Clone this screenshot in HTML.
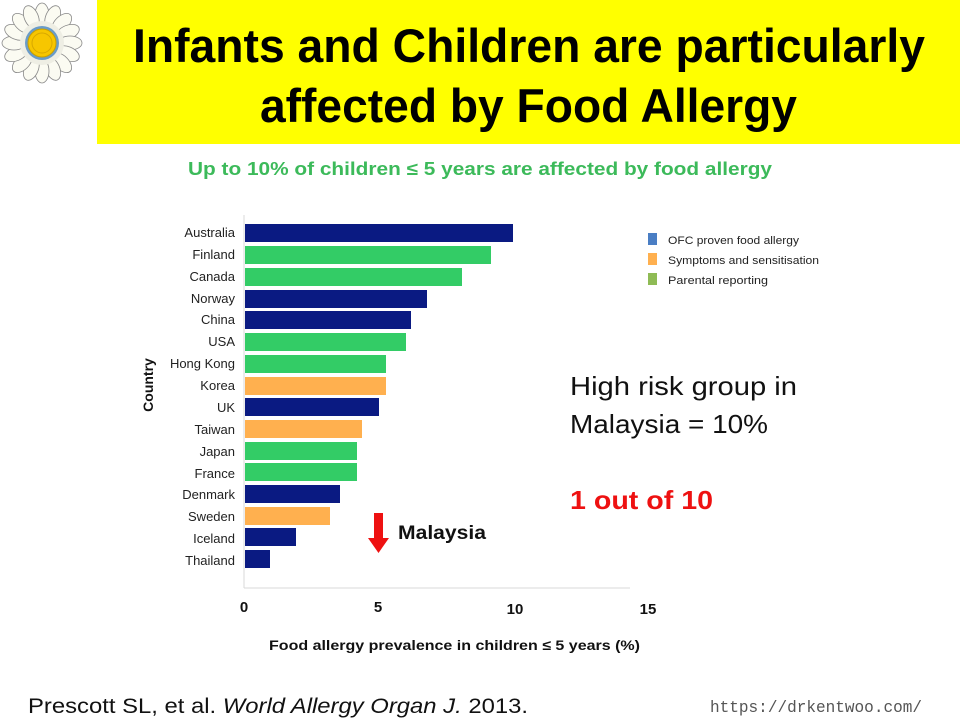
<!DOCTYPE html>
<html><head><meta charset="utf-8"><style>
body{margin:0;background:#fff;}
svg{display:block;font-family:"Liberation Sans",sans-serif;}
</style></head><body>
<svg width="960" height="720" viewBox="0 0 960 720" xmlns="http://www.w3.org/2000/svg">
<rect x="97" y="0" width="863" height="144" fill="#ffff00"/>
<text x="133" y="62" font-size="47" font-weight="bold" fill="#000" textLength="792" lengthAdjust="spacingAndGlyphs">Infants and Children are particularly</text>
<text x="260" y="122" font-size="47" font-weight="bold" fill="#000" textLength="537" lengthAdjust="spacingAndGlyphs">affected by Food Allergy</text>
<!-- flower -->
<g transform="translate(42,43)">
<g fill="#fbfbf2" stroke="#888" stroke-width="0.8">
<ellipse cx="0" cy="-28" rx="7" ry="12" transform="rotate(0)"/><ellipse cx="0" cy="-28" rx="7" ry="12" transform="rotate(22.5)"/><ellipse cx="0" cy="-28" rx="7" ry="12" transform="rotate(45)"/><ellipse cx="0" cy="-28" rx="7" ry="12" transform="rotate(67.5)"/><ellipse cx="0" cy="-28" rx="7" ry="12" transform="rotate(90)"/><ellipse cx="0" cy="-28" rx="7" ry="12" transform="rotate(112.5)"/><ellipse cx="0" cy="-28" rx="7" ry="12" transform="rotate(135)"/><ellipse cx="0" cy="-28" rx="7" ry="12" transform="rotate(157.5)"/><ellipse cx="0" cy="-28" rx="7" ry="12" transform="rotate(180)"/><ellipse cx="0" cy="-28" rx="7" ry="12" transform="rotate(202.5)"/><ellipse cx="0" cy="-28" rx="7" ry="12" transform="rotate(225)"/><ellipse cx="0" cy="-28" rx="7" ry="12" transform="rotate(247.5)"/><ellipse cx="0" cy="-28" rx="7" ry="12" transform="rotate(270)"/><ellipse cx="0" cy="-28" rx="7" ry="12" transform="rotate(292.5)"/><ellipse cx="0" cy="-28" rx="7" ry="12" transform="rotate(315)"/><ellipse cx="0" cy="-28" rx="7" ry="12" transform="rotate(337.5)"/>
</g>
<circle r="22" fill="#eeeee4"/>
<circle r="17" fill="#6a9cc8"/>
<circle r="14" fill="#f7c600" stroke="#c9a000"/>
<circle r="10" fill="none" stroke="#d8a800"/>
</g>
<text x="188" y="175" font-size="18" font-weight="bold" fill="#3cba5a" textLength="584" lengthAdjust="spacingAndGlyphs">Up to 10% of children ≤ 5 years are affected by food allergy</text>
<!-- axes -->
<line x1="244" y1="215" x2="244" y2="588" stroke="#d9d9d9"/>
<line x1="244" y1="588" x2="630" y2="588" stroke="#d9d9d9"/>
<g font-size="13" fill="#222" text-anchor="end">
<text x="235" y="237">Australia</text><text x="235" y="259">Finland</text><text x="235" y="281">Canada</text><text x="235" y="303">Norway</text><text x="235" y="324">China</text><text x="235" y="346">USA</text><text x="235" y="368">Hong Kong</text><text x="235" y="390">Korea</text><text x="235" y="412">UK</text><text x="235" y="434">Taiwan</text><text x="235" y="456">Japan</text><text x="235" y="478">France</text><text x="235" y="499">Denmark</text><text x="235" y="521">Sweden</text><text x="235" y="543">Iceland</text><text x="235" y="565">Thailand</text>
</g>
<g>
<rect x="245" y="224" width="268" height="18" fill="#0a1a82"/>
<rect x="245" y="246" width="246" height="18" fill="#33cc66"/>
<rect x="245" y="268" width="217" height="18" fill="#33cc66"/>
<rect x="245" y="290" width="182" height="18" fill="#0a1a82"/>
<rect x="245" y="311" width="166" height="18" fill="#0a1a82"/>
<rect x="245" y="333" width="161" height="18" fill="#33cc66"/>
<rect x="245" y="355" width="141" height="18" fill="#33cc66"/>
<rect x="245" y="377" width="141" height="18" fill="#ffb04f"/>
<rect x="245" y="398" width="134" height="18" fill="#0a1a82"/>
<rect x="245" y="420" width="117" height="18" fill="#ffb04f"/>
<rect x="245" y="442" width="112" height="18" fill="#33cc66"/>
<rect x="245" y="463" width="112" height="18" fill="#33cc66"/>
<rect x="245" y="485" width="95" height="18" fill="#0a1a82"/>
<rect x="245" y="507" width="85" height="18" fill="#ffb04f"/>
<rect x="245" y="528" width="51" height="18" fill="#0a1a82"/>
<rect x="245" y="550" width="25" height="18" fill="#0a1a82"/>
</g>
<g font-size="15" font-weight="bold" fill="#111" text-anchor="middle">
<text x="244" y="612">0</text><text x="378" y="612">5</text><text x="515" y="614">10</text><text x="648" y="614">15</text>
</g>
<text x="269" y="650" font-size="14" font-weight="bold" fill="#111" textLength="371" lengthAdjust="spacingAndGlyphs">Food allergy prevalence in children ≤ 5 years (%)</text>
<text transform="translate(153,385) rotate(-90)" text-anchor="middle" font-size="14" font-weight="bold" fill="#111">Country</text>
<!-- legend -->
<rect x="648" y="233" width="9" height="12" fill="#4a7ec4"/>
<rect x="648" y="253" width="9" height="12" fill="#ffb04f"/>
<rect x="648" y="273" width="9" height="12" fill="#8fbb55"/>
<g font-size="11" fill="#222"><text x="668" y="244" textLength="131" lengthAdjust="spacingAndGlyphs">OFC proven food allergy</text><text x="668" y="264" textLength="151" lengthAdjust="spacingAndGlyphs">Symptoms and sensitisation</text><text x="668" y="284" textLength="100" lengthAdjust="spacingAndGlyphs">Parental reporting</text></g>
<!-- arrow -->
<rect x="374" y="513" width="9" height="28" fill="#ee1111"/>
<path d="M368,538 L389,538 L378.5,553Z" fill="#ee1111"/>
<text x="398" y="539" font-size="19" font-weight="bold" fill="#111" textLength="88" lengthAdjust="spacingAndGlyphs">Malaysia</text>
<text x="570" y="395" font-size="26" fill="#111" textLength="227" lengthAdjust="spacingAndGlyphs">High risk group in</text>
<text x="570" y="433" font-size="26" fill="#111" textLength="198" lengthAdjust="spacingAndGlyphs">Malaysia = 10%</text>
<text x="570" y="509" font-size="26" font-weight="bold" fill="#ee1111" textLength="143" lengthAdjust="spacingAndGlyphs">1 out of 10</text>
<text x="28" y="713" font-size="21" fill="#111" textLength="500" lengthAdjust="spacingAndGlyphs">Prescott SL, et al. <tspan font-style="italic">World Allergy Organ J.</tspan> 2013.</text>
<text x="710" y="712" font-size="17" fill="#555" font-family="Liberation Mono, monospace" textLength="212" lengthAdjust="spacingAndGlyphs">https://drkentwoo.com/</text>
</svg>
</body></html>
